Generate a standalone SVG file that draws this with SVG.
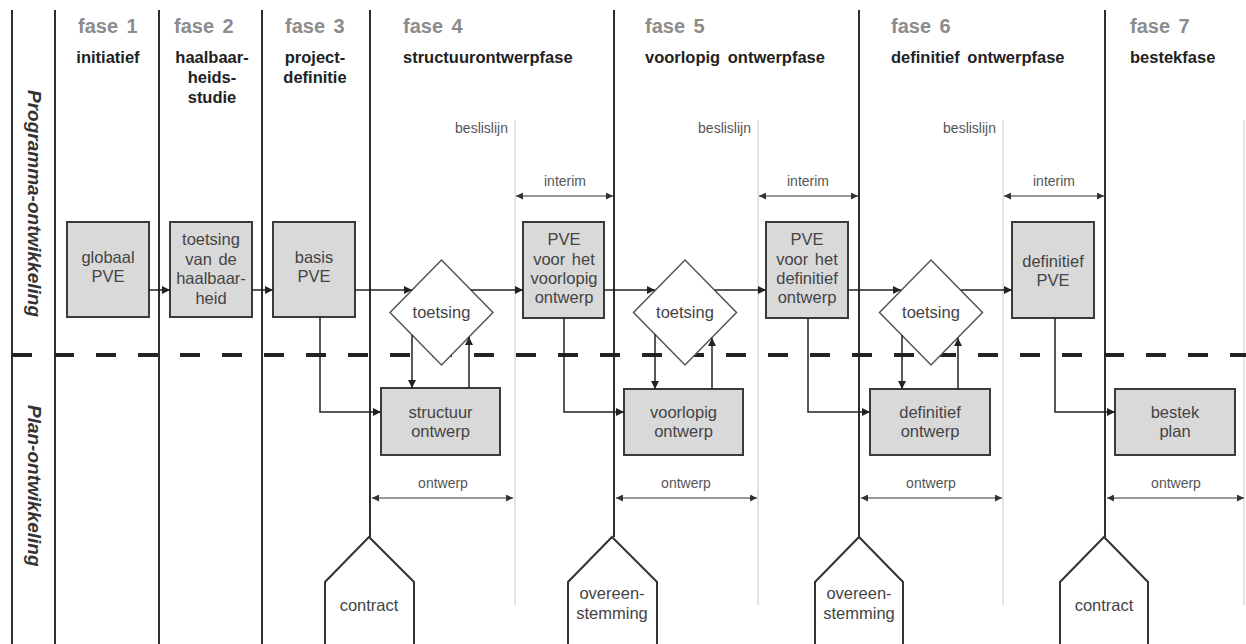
<svg xmlns="http://www.w3.org/2000/svg" width="1246" height="644" viewBox="0 0 1246 644">
<style>
.vl{stroke:#2e2e2e;stroke-width:2;fill:none}
.gl{stroke:#c8c8c8;stroke-width:1;fill:none}
.box{fill:#d9d9d9;stroke:#3a3a3a;stroke-width:2}
.dia{fill:#fff;stroke:#555;stroke-width:1.5}
.pent{fill:#fff;stroke:#333;stroke-width:2}
.bt{font-family:"Liberation Sans",Arial,sans-serif;font-size:16.5px;fill:#444;text-anchor:middle}
.fase{font-family:"Liberation Sans",Arial,sans-serif;font-size:20px;font-weight:bold;fill:#8c8c8c;word-spacing:3px}
.hd{font-family:"Liberation Sans",Arial,sans-serif;font-size:16.5px;font-weight:bold;fill:#222}
.sm{font-family:"Liberation Sans",Arial,sans-serif;font-size:14px;fill:#555}
.lane{font-family:"Liberation Sans",Arial,sans-serif;font-size:19px;font-weight:bold;font-style:italic;fill:#333}
.cn{stroke:#222;stroke-width:1.5;fill:none}
.dim{stroke:#333;stroke-width:1.2;fill:none;marker-start:url(#dh);marker-end:url(#dh)}
</style>
<defs>
<marker id="ah" viewBox="0 0 10 10" refX="10" refY="5" markerWidth="10" markerHeight="8" orient="auto" markerUnits="userSpaceOnUse"><path d="M0,0 L10,5 L0,10 z" fill="#222"/></marker>
<marker id="dh" viewBox="0 0 10 10" refX="10" refY="5" markerWidth="10" markerHeight="7" orient="auto-start-reverse" markerUnits="userSpaceOnUse"><path d="M0,0 L10,5 L0,10 z" fill="#333"/></marker>
</defs>
<rect width="1246" height="644" fill="#fff"/>

<g id="grid">
<path class="vl" d="M12,10 V644 M55,10 V644 M159,10 V644 M262,10 V644 M370,10 V537 M614,10 V537 M859,10 V537 M1105,10 V537"/>
<path class="gl" d="M515,120 V605 M758,120 V605 M1003,120 V605 M1244,120 V605"/>
<path d="M12,355 H1246" stroke="#222" stroke-width="4" stroke-dasharray="20 22"/>
</g>

<g id="lanes">
<text class="lane" transform="translate(28,90) rotate(90)">Programma-ontwikkeling</text>
<text class="lane" transform="translate(28,405) rotate(90)">Plan-ontwikkeling</text>
</g>

<g id="headers">
<text class="fase" x="78" y="33">fase 1</text>
<text class="fase" x="174" y="33">fase 2</text>
<text class="fase" x="285" y="33">fase 3</text>
<text class="fase" x="403" y="33">fase 4</text>
<text class="fase" x="645" y="33">fase 5</text>
<text class="fase" x="891" y="33">fase 6</text>
<text class="fase" x="1130" y="33">fase 7</text>
<text class="hd" x="108" y="63" text-anchor="middle">initiatief</text>
<text class="hd" x="212" y="63" text-anchor="middle">haalbaar-</text>
<text class="hd" x="212" y="83" text-anchor="middle">heids-</text>
<text class="hd" x="212" y="103" text-anchor="middle">studie</text>
<text class="hd" x="315" y="63" text-anchor="middle">project-</text>
<text class="hd" x="315" y="83" text-anchor="middle">definitie</text>
<text class="hd" x="403" y="63">structuurontwerpfase</text>
<text class="hd" x="645" y="63" word-spacing="3">voorlopig ontwerpfase</text>
<text class="hd" x="891" y="63" word-spacing="3">definitief ontwerpfase</text>
<text class="hd" x="1130" y="63">bestekfase</text>
</g>

<g id="annotations">
<text class="sm" x="508" y="133" text-anchor="end">beslislijn</text>
<text class="sm" x="751" y="133" text-anchor="end">beslislijn</text>
<text class="sm" x="996" y="133" text-anchor="end">beslislijn</text>
<text class="sm" x="565" y="186" text-anchor="middle">interim</text>
<text class="sm" x="808" y="186" text-anchor="middle">interim</text>
<text class="sm" x="1054" y="186" text-anchor="middle">interim</text>
<text class="sm" x="443" y="488" text-anchor="middle">ontwerp</text>
<text class="sm" x="686" y="488" text-anchor="middle">ontwerp</text>
<text class="sm" x="931" y="488" text-anchor="middle">ontwerp</text>
<text class="sm" x="1176" y="488" text-anchor="middle">ontwerp</text>
</g>

<g id="n-globaal"><rect class="box" x="67" y="222" width="82" height="95"/><text class="bt" x="108" y="263">globaal</text><text class="bt" x="108" y="282">PVE</text></g>
<g id="n-haalbaarheid"><rect class="box" x="170" y="222" width="82" height="95"/><text class="bt" x="211" y="245">toetsing</text><text class="bt" x="211" y="265" word-spacing="2">van de</text><text class="bt" x="211" y="284">haalbaar-</text><text class="bt" x="211" y="304">heid</text></g>
<g id="n-basis"><rect class="box" x="273" y="222" width="82" height="95"/><text class="bt" x="314" y="263">basis</text><text class="bt" x="314" y="282">PVE</text></g>
<g id="n-pve-voorlopig"><rect class="box" x="523" y="222" width="81" height="96"/><text class="bt" x="564" y="245">PVE</text><text class="bt" x="564" y="265" word-spacing="2">voor het</text><text class="bt" x="564" y="284">voorlopig</text><text class="bt" x="564" y="303">ontwerp</text></g>
<g id="n-pve-definitief"><rect class="box" x="766" y="222" width="82" height="96"/><text class="bt" x="807" y="245">PVE</text><text class="bt" x="807" y="265" word-spacing="2">voor het</text><text class="bt" x="807" y="284">definitief</text><text class="bt" x="807" y="303">ontwerp</text></g>
<g id="n-definitief-pve"><rect class="box" x="1012" y="222" width="82" height="96"/><text class="bt" x="1053" y="267">definitief</text><text class="bt" x="1053" y="286">PVE</text></g>

<g id="n-toetsing1"><polygon class="dia" points="441.5,260 493,312.5 441.5,365 390,312.5"/><text class="bt" x="441.5" y="318">toetsing</text></g>
<g id="n-toetsing2"><polygon class="dia" points="685,260 736.5,312.5 685,365 633.5,312.5"/><text class="bt" x="685" y="318">toetsing</text></g>
<g id="n-toetsing3"><polygon class="dia" points="931,260 982.5,312.5 931,365 879.5,312.5"/><text class="bt" x="931" y="318">toetsing</text></g>

<g id="n-structuur"><rect class="box" x="381" y="388" width="119" height="67"/><text class="bt" x="440.5" y="418">structuur</text><text class="bt" x="440.5" y="437">ontwerp</text></g>
<g id="n-voorlopig"><rect class="box" x="624" y="389" width="119" height="66"/><text class="bt" x="683.5" y="418">voorlopig</text><text class="bt" x="683.5" y="437">ontwerp</text></g>
<g id="n-definitief"><rect class="box" x="870" y="389" width="120" height="66"/><text class="bt" x="930" y="418">definitief</text><text class="bt" x="930" y="437">ontwerp</text></g>
<g id="n-bestek"><rect class="box" x="1115" y="389" width="120" height="66"/><text class="bt" x="1175" y="418">bestek</text><text class="bt" x="1175" y="437">plan</text></g>

<g id="n-contract1"><polygon class="pent" points="369,537 414,582 414,646 325,646 325,582"/><text class="bt" x="369" y="611">contract</text></g>
<g id="n-overeen1"><polygon class="pent" points="612,537 657,582 657,646 568,646 568,582"/><text class="bt" x="612" y="599">overeen-</text><text class="bt" x="612" y="619">stemming</text></g>
<g id="n-overeen2"><polygon class="pent" points="859,537 903,582 903,646 815,646 815,582"/><text class="bt" x="859" y="599">overeen-</text><text class="bt" x="859" y="619">stemming</text></g>
<g id="n-contract2"><polygon class="pent" points="1104,537 1148,582 1148,646 1060,646 1060,582"/><text class="bt" x="1104" y="611">contract</text></g>

<g id="connectors" marker-end="url(#ah)">
<path class="cn" marker-end="url(#ah)" d="M149,290 H170"/>
<path class="cn" marker-end="url(#ah)" d="M252,290 H273"/>
<path class="cn" marker-end="url(#ah)" d="M355,290 H412"/>
<path class="cn" marker-end="url(#ah)" d="M471,290 H523"/>
<path class="cn" marker-end="url(#ah)" d="M604,290 H655"/>
<path class="cn" marker-end="url(#ah)" d="M715,290 H766"/>
<path class="cn" marker-end="url(#ah)" d="M848,290 H901"/>
<path class="cn" marker-end="url(#ah)" d="M961,290 H1012"/>
<path class="cn" marker-end="url(#ah)" d="M412,335 V388"/>
<path class="cn" marker-end="url(#ah)" d="M469,388 V337"/>
<path class="cn" marker-end="url(#ah)" d="M655,334 V389"/>
<path class="cn" marker-end="url(#ah)" d="M712,389 V338"/>
<path class="cn" marker-end="url(#ah)" d="M902,335 V389"/>
<path class="cn" marker-end="url(#ah)" d="M958,389 V338"/>
<path class="cn" marker-end="url(#ah)" d="M320,317 V412 H381"/>
<path class="cn" marker-end="url(#ah)" d="M564,318 V412 H624"/>
<path class="cn" marker-end="url(#ah)" d="M808,318 V412 H870"/>
<path class="cn" marker-end="url(#ah)" d="M1055,318 V412 H1115"/>
<path class="dim" d="M516,196 H613"/>
<path class="dim" d="M759,196 H858"/>
<path class="dim" d="M1004,196 H1104"/>
<path class="dim" d="M372,498 H513"/>
<path class="dim" d="M616,498 H757"/>
<path class="dim" d="M861,498 H1002"/>
<path class="dim" d="M1107,498 H1244"/>
</g>
</svg>
